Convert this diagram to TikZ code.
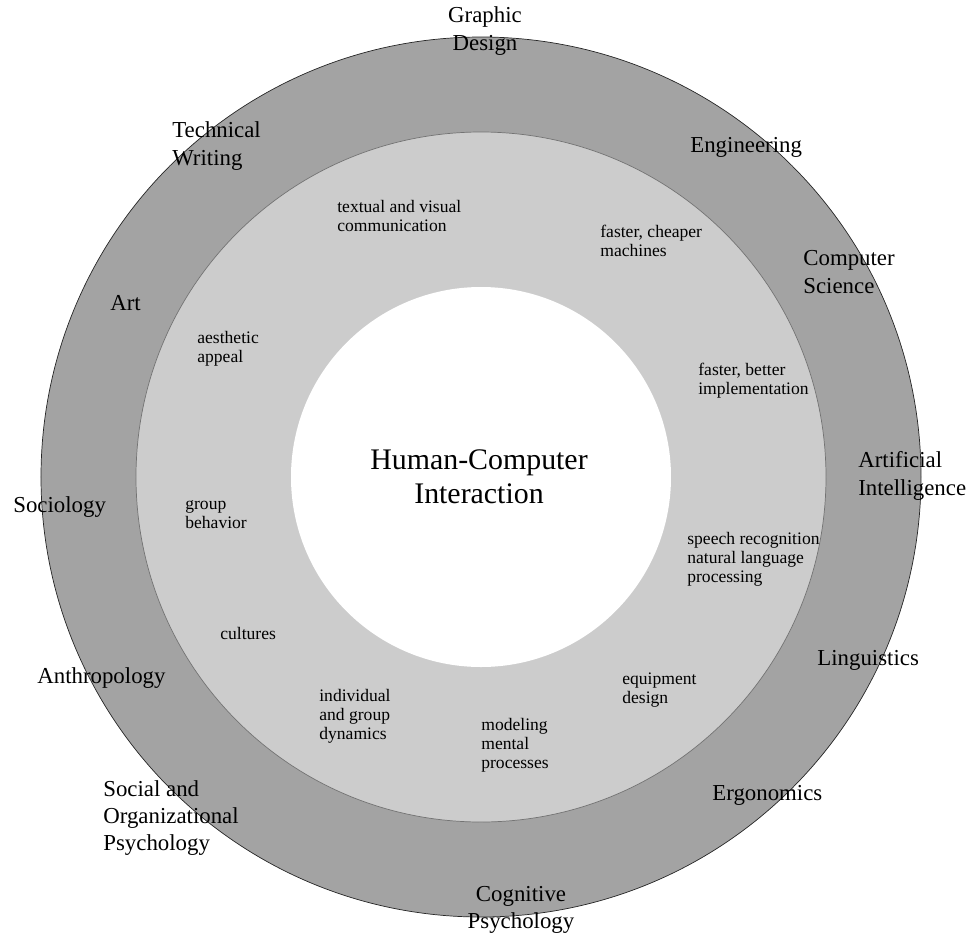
\documentclass[tikz,border=0pt]{standalone}
\usepackage{fontspec}
\setmainfont{Liberation Serif}
\usepackage{tikz}
\usetikzlibrary{positioning}

\begin{document}
\begin{tikzpicture}[
  field/.style={align=left,anchor=west,inner sep=0pt,font=\fontsize{13}{15.5}\selectfont},
  topic/.style={align=left,anchor=west,inner sep=0pt,font=\fontsize{10}{10.8}\selectfont},
  every path/.style={thin}
]
  \useasboundingbox (-9.62,-9.18) rectangle (9.92,9.54);

  % Rings
  \fill[black!36] (0,0) circle (8.8);
  \draw[black!85] (0,0) circle (8.8);
  \fill[black!20] (0,0) circle (6.9);
  \draw[black!55] (0,0) circle (6.9);
  \fill[white] (0,0) circle (3.8);

  % Centre
  \node[align=center,font=\fontsize{17}{19.5}\selectfont] (hci) at (-0.04,0) {Human-Computer\\Interaction};

  % Outer ring: disciplines
  \node[field,anchor=center,align=center] (graphic) at (0.08,8.92) {Graphic\\Design};
  \node[field] (techwrite) at (-6.18,6.62) {Technical\\Writing};
  \node[field] (engineer) at (4.18,6.60) {Engineering};
  \node[field] (compsci) at (6.44,4.10) {Computer\\Science};
  \node[field] (art) at (-7.42,3.48) {Art};
  \node[field] (sociology) at (-9.36,-0.60) {Sociology};
  \node[field] (artint) at (7.54,0.02) {Artificial\\Intelligence};
  \node[field] (linguist) at (6.72,-3.66) {Linguistics};
  \node[field] (anthro) at (-8.88,-4.02) {Anthropology};
  \node[field] (socorg) at (-7.56,-6.82) {Social and\\Organizational\\Psychology};
  \node[field] (ergo) at (4.62,-6.36) {Ergonomics};
  \node[field,anchor=center,align=center] (cogpsy) at (0.80,-8.66) {Cognitive\\Psychology};

  % Middle ring: contributions
  \node[topic] (textvis) at (-2.88,5.22) {textual and visual\\communication};
  \node[topic] (machines) at (2.38,4.72) {faster, cheaper\\machines};
  \node[topic] (aesthetic) at (-5.68,2.56) {aesthetic\\appeal};
  \node[topic] (implement) at (4.34,1.92) {faster, better\\implementation};
  \node[topic] (groupbeh) at (-5.92,-0.76) {group\\behavior};
  \node[topic] (speech) at (4.12,-1.64) {speech recognition\\natural language\\processing};
  \node[topic] (cultures) at (-5.22,-3.12) {cultures};
  \node[topic] (dynamics) at (-3.24,-4.78) {individual\\and group\\dynamics};
  \node[topic] (equip) at (2.82,-4.26) {equipment\\design};
  \node[topic] (mental) at (0.00,-5.36) {modeling\\mental\\processes};
\end{tikzpicture}
\end{document}
